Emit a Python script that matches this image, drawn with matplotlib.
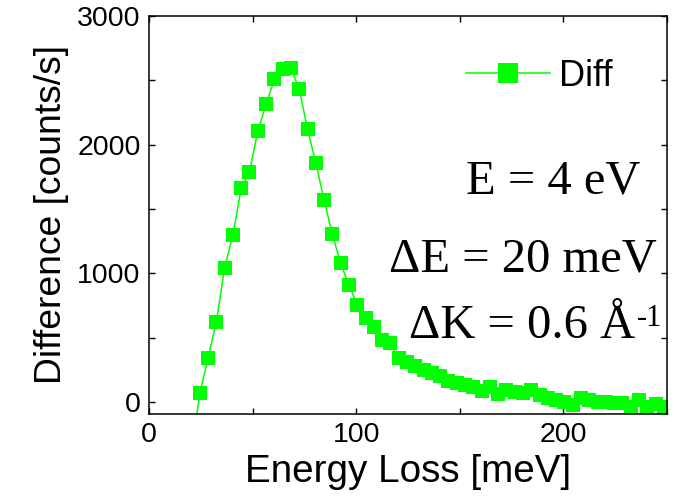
import matplotlib
matplotlib.use("Agg")
import matplotlib.pyplot as plt
from matplotlib.ticker import MultipleLocator
from matplotlib.lines import Line2D

energy_loss = [20.5, 24.5, 28.5, 32.5, 36.5, 40.5, 44.5, 48.5, 52.5, 56.5, 60.5,
               64.5, 68.5, 72.5, 76.5, 80.5, 84.5, 88.5, 92.5, 96.5, 100.5,
               104.5, 108.5, 112.5, 116.5, 120.5, 124.5, 128.5, 132.5, 136.5, 140.5,
               144.5, 148.5, 152.5, 156.5, 160.5, 164.5, 168.5, 172.5, 176.5, 180.5,
               184.5, 188.5, 192.5, 196.5, 200.5, 204.5, 208.5, 212.5, 216.5, 220.5,
               224.5, 228.5, 232.5, 236.5, 240.5, 244.5, 248.5]
difference = [-400, 68, 340, 624, 1044, 1298, 1660, 1789, 2106, 2313, 2507,
              2587, 2593, 2432, 2121, 1859, 1570, 1303, 1078, 909, 754,
              650, 580, 482, 456, 340, 313, 280, 249, 228, 202,
              166, 150, 132, 114, 88, 114, 62, 93, 80, 70,
              90, 54, 29, 16, 2, -23, 29, 16, 2, 2,
              -10, -10, -36, 16, -36, -16, -36]

series_label = "Diff"
annotations = ["E = 4 eV", "ΔE = 20 meV", "ΔK = 0.6 Å"]
superscript = "-1"

W, H = 674, 499
fig = plt.figure(figsize=(W / 100, H / 100), dpi=100)
L, R, T, B = 149, 667, 16, 414
ax = fig.add_axes([L / W, 1 - B / H, (R - L) / W, (B - T) / H])

def ax_frac(px, py):
    return (px - L) / (R - L), (B - py) / (B - T)

green = "#00FF00"
line, = ax.plot(energy_loss, difference, color=green, lw=1.1, marker="s", ms=9.5,
                mfc=green, mec=green, mew=0, label=series_label)

ax.set_xlim(0, 250)
ax.set_ylim(-93, 3000)

ax.xaxis.set_major_locator(MultipleLocator(100))
ax.xaxis.set_minor_locator(MultipleLocator(50))
ax.yaxis.set_major_locator(MultipleLocator(1000))
ax.yaxis.set_minor_locator(MultipleLocator(500))

for s in ax.spines.values():
    s.set_linewidth(1.1)

ax.tick_params(which="both", direction="in", top=True, right=True,
               length=4.5, width=1.0, labelsize=20.5, pad=6)
for lbl in ax.get_xticklabels() + ax.get_yticklabels():
    lbl.set_family("Liberation Sans")

ax.set_xlabel("Energy Loss [meV]", fontsize=27.8, family="Liberation Sans", labelpad=4)
ax.set_ylabel("Difference [counts/s]", fontsize=26.8, family="Liberation Sans", labelpad=6)

# legend handle placed by hand
lx0, ly = ax_frac(466, 73)
lx1, _ = ax_frac(550, 73)
mx, _ = ax_frac(508, 73)
ax.add_line(Line2D([lx0, lx1], [ly, ly], transform=ax.transAxes, color=green, lw=1.1))
ax.add_line(Line2D([mx], [ly], transform=ax.transAxes, color=green, marker="s",
                   ms=15, mew=0, mfc=green))
tx, _ = ax_frac(559, 73)
ax.text(tx, ly, series_label, transform=ax.transAxes, ha="left", va="center_baseline",
        fontsize=26, family="Liberation Sans")

text_pos = [(640, 193), (657, 271), (635, 338)]
for txt, (px, py) in zip(annotations, text_pos):
    fx, fy = ax_frac(px, py)
    ax.text(fx, fy, txt, transform=ax.transAxes, ha="right", va="baseline",
            fontsize=35, family="Liberation Serif")
sx, sy = ax_frac(637, 326)
ax.text(sx, sy, superscript, transform=ax.transAxes, ha="left", va="baseline",
        fontsize=22, family="Liberation Serif")

fig.savefig("out.png", dpi=100)
